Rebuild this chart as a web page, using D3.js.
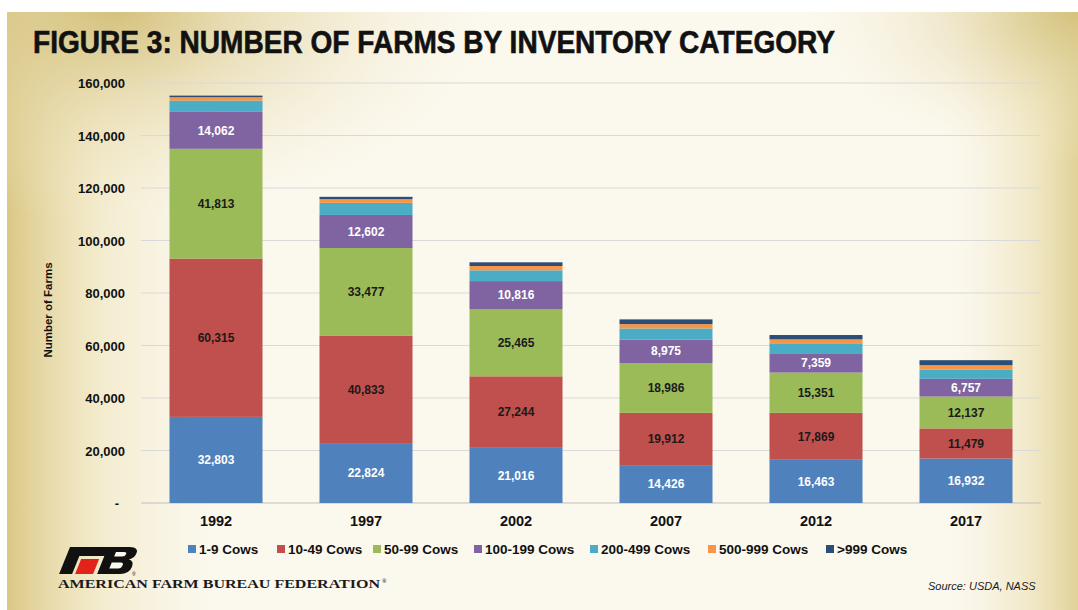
<!DOCTYPE html>
<html>
<head>
<meta charset="utf-8">
<script src="https://cdn.jsdelivr.net/npm/d3@7"></script>
<style>
  body { margin: 0; background: #fff; }
  svg { display: block; }
  .tick-label { font-family: "Liberation Sans", Arial, sans-serif; font-weight: bold; font-size: 13px; fill: #111; }
  .narrow { font-family: "Liberation Sans Narrow", "Liberation Sans", Arial, sans-serif; font-weight: bold; }
</style>
</head>
<body>
<svg id="chart" width="1078" height="610"></svg>
<script>
var years = ["1992", "1997", "2002", "2007", "2012", "2017"];
var categories = ["1-9 Cows", "10-49 Cows", "50-99 Cows", "100-199 Cows", "200-499 Cows", "500-999 Cows", ">999 Cows"];
var cows1to9 = [32803, 22824, 21016, 14426, 16463, 16932];
var cows10to49 = [60315, 40833, 27244, 19912, 17869, 11479];
var cows50to99 = [41813, 33477, 25465, 18986, 15351, 12137];
var cows100to199 = [14062, 12602, 10816, 8975, 7359, 6757];
var cows200to499 = [4300, 4600, 4100, 4200, 3800, 3550];
var cows500to999 = [1300, 1400, 1650, 1650, 1500, 1650];
var cowsOver999 = [600, 900, 1400, 1800, 1650, 1900];
var yTicks = [0, 20000, 40000, 60000, 80000, 100000, 120000, 140000, 160000];

var colors = ["#4f81bd", "#c0504d", "#9bbb59", "#8064a2", "#4bacc6", "#f79646", "#2c4d75"];
var labelColors = ["#fff", "#1a1a1a", "#1a1a1a", "#fff"];

var series = [cows1to9, cows10to49, cows50to99, cows100to199, cows200to499, cows500to999, cowsOver999];
var rows = years.map(function(y, i) {
  var r = {year: y};
  categories.forEach(function(c, k) { r[c] = series[k][i]; });
  return r;
});

var svg = d3.select("#chart");
var defs = svg.append("defs");

// parchment background: yellowed along the left edge, top-left and right edge
var lg = defs.append("linearGradient").attr("id", "bgLeft")
  .attr("x1", "0%").attr("x2", "100%").attr("y1", "0%").attr("y2", "0%");
lg.append("stop").attr("offset", "0%").attr("stop-color", "#d9c57f").attr("stop-opacity", 0.95);
lg.append("stop").attr("offset", "9%").attr("stop-color", "#ece0b0").attr("stop-opacity", 0.5);
lg.append("stop").attr("offset", "20%").attr("stop-color", "#f4ecd0").attr("stop-opacity", 0);
lg.append("stop").attr("offset", "88%").attr("stop-color", "#f4ecd0").attr("stop-opacity", 0);
lg.append("stop").attr("offset", "96%").attr("stop-color", "#e8dba6").attr("stop-opacity", 0.6);
lg.append("stop").attr("offset", "100%").attr("stop-color", "#dccb88").attr("stop-opacity", 0.85);
var tg = defs.append("radialGradient").attr("id", "bgTop")
  .attr("cx", "10%").attr("cy", "0%").attr("r", "35%");
tg.append("stop").attr("offset", "0%").attr("stop-color", "#d3bf78").attr("stop-opacity", 0.95);
tg.append("stop").attr("offset", "100%").attr("stop-color", "#f4ecd0").attr("stop-opacity", 0);
var rg = defs.append("radialGradient").attr("id", "bgRight")
  .attr("cx", "100%").attr("cy", "0%").attr("r", "25%");
rg.append("stop").attr("offset", "0%").attr("stop-color", "#d3c07a").attr("stop-opacity", 0.9);
rg.append("stop").attr("offset", "100%").attr("stop-color", "#f4ecd0").attr("stop-opacity", 0);

["#fbf8ee", "url(#bgLeft)", "url(#bgTop)", "url(#bgRight)"].forEach(function(f) {
  svg.append("rect").attr("x", 7).attr("y", 12).attr("width", 1071).attr("height", 598).attr("fill", f);
});

// title
svg.append("text")
  .attr("class", "narrow")
  .attr("x", 33).attr("y", 53)
  .attr("textLength", 802).attr("lengthAdjust", "spacingAndGlyphs")
  .style("font-size", "31px").style("fill", "#111")
  .style("stroke", "#111").style("stroke-width", 0.6)
  .text("FIGURE 3: NUMBER OF FARMS BY INVENTORY CATEGORY");

var x = d3.scaleBand().domain(years).range([141, 1041]).paddingInner(0.38).paddingOuter(0.19);
var y = d3.scaleLinear().domain([0, 160000]).range([503, 83]);

// gridlines
svg.append("g").selectAll("line").data(yTicks).enter().append("line")
  .attr("x1", 141).attr("x2", 1041)
  .attr("y1", function(d) { return y(d); })
  .attr("y2", function(d) { return y(d); })
  .attr("stroke", function(d) { return d === 0 ? "#bfbfbf" : "#d9d9d9"; })
  .attr("stroke-width", 1);

var yAxis = d3.axisLeft(y).tickValues(yTicks).tickSize(0).tickPadding(0)
  .tickFormat(function(d) { return d === 0 ? "-" : d3.format(",")(d); });
var yg = svg.append("g").attr("transform", "translate(125,0)").call(yAxis);
yg.select(".domain").remove();
yg.selectAll("text").attr("class", "tick-label").attr("dy", "0.35em")
  .attr("dx", function(d) { return d === 0 ? -6 : 0; });

svg.append("text")
  .attr("transform", "translate(52,310) rotate(-90)")
  .attr("text-anchor", "middle")
  .style("font-family", "Liberation Sans, Arial, sans-serif")
  .style("font-weight", "bold").style("font-size", "11.5px").style("fill", "#111")
  .text("Number of Farms");

// stacked bars
var stacked = d3.stack().keys(categories)(rows);
var layers = svg.append("g").selectAll("g").data(stacked).enter().append("g")
  .attr("fill", function(d, k) { return colors[k]; });
layers.selectAll("rect").data(function(d) { return d; }).enter().append("rect")
  .attr("x", function(d) { return x(d.data.year); })
  .attr("width", x.bandwidth())
  .attr("y", function(d) { return y(d[1]); })
  .attr("height", function(d) { return y(d[0]) - y(d[1]); });

// value labels for the four biggest groups
stacked.slice(0, 4).forEach(function(layer, k) {
  svg.append("g").selectAll("text").data(layer).enter().append("text")
    .attr("x", function(d) { return x(d.data.year) + x.bandwidth() / 2; })
    .attr("y", function(d) { return (y(d[0]) + y(d[1])) / 2; })
    .attr("dy", "0.35em")
    .attr("text-anchor", "middle")
    .style("font-family", "Liberation Sans, Arial, sans-serif")
    .style("font-weight", "bold").style("font-size", "12px")
    .style("fill", labelColors[k])
    .text(function(d) { return d3.format(",")(d[1] - d[0]); });
});

// year labels
var xAxis = d3.axisBottom(x).tickSize(0).tickPadding(0);
var xg = svg.append("g").attr("transform", "translate(0,516)").call(xAxis);
xg.select(".domain").remove();
xg.selectAll("text")
  .style("font-family", "Liberation Sans, Arial, sans-serif")
  .style("font-weight", "bold").style("font-size", "14.5px").style("fill", "#111")
  .attr("dy", "0.71em");

// legend
var legendX = [188, 277, 373, 474, 590, 708, 826];
var legend = svg.append("g").selectAll("g").data(categories).enter().append("g")
  .attr("transform", function(d, i) { return "translate(" + legendX[i] + ",549)"; });
legend.append("rect").attr("x", 0).attr("y", -4).attr("width", 8).attr("height", 8)
  .attr("fill", function(d, i) { return colors[i]; });
legend.append("text").attr("class", "narrow")
  .attr("x", 11).attr("dy", "0.35em")
  .style("font-size", "13.5px").style("fill", "#111")
  .text(function(d) { return d; });

// logo
var logo = svg.append("g").attr("transform", "translate(70,547) skewX(-22)");
logo.append("path").attr("fill", "#111")
  .attr("d", "M0,0 H44 V9 H13 V27 H0 Z");
logo.append("path").attr("fill", "#e2231a")
  .attr("d", "M16,12 H34 V27 H16 Z");
logo.append("path").attr("fill", "#111")
  .attr("d", "M38,12 V0 H60 Q69,0 69,6.5 Q69,11 64,12.5 Q70,14 70,20 Q70,27 61,27 H38 V12 H44 Z");
logo.append("path").attr("fill", "#fbf8ee")
  .attr("d", "M48,5 H56 Q59,5 59,7 Q59,9.5 56,9.5 H48 Z M48,15.5 H57 Q60,15.5 60,18 Q60,21.5 57,21.5 H48 Z");
svg.append("text").attr("x", 132).attr("y", 576)
  .style("font-family", "Liberation Sans, Arial, sans-serif").style("font-size", "5px").style("fill", "#111")
  .text("®");
var org = svg.append("text")
  .attr("x", 58).attr("y", 588)
  .style("font-family", "Liberation Serif, DejaVu Serif, serif")
  .style("font-weight", "bold").style("font-size", "13px").style("fill", "#1a1a1a");
org.append("tspan").attr("textLength", 322).attr("lengthAdjust", "spacingAndGlyphs")
  .text("AMERICAN FARM BUREAU FEDERATION");
org.append("tspan").attr("dx", 2).attr("dy", -5).style("font-size", "6px").text("®");

svg.append("text")
  .attr("x", 928).attr("y", 590)
  .style("font-family", "Liberation Sans, Arial, sans-serif")
  .style("font-style", "italic").style("font-size", "11px").style("fill", "#1a1a1a")
  .text("Source: USDA, NASS");
</script>
</body>
</html>
